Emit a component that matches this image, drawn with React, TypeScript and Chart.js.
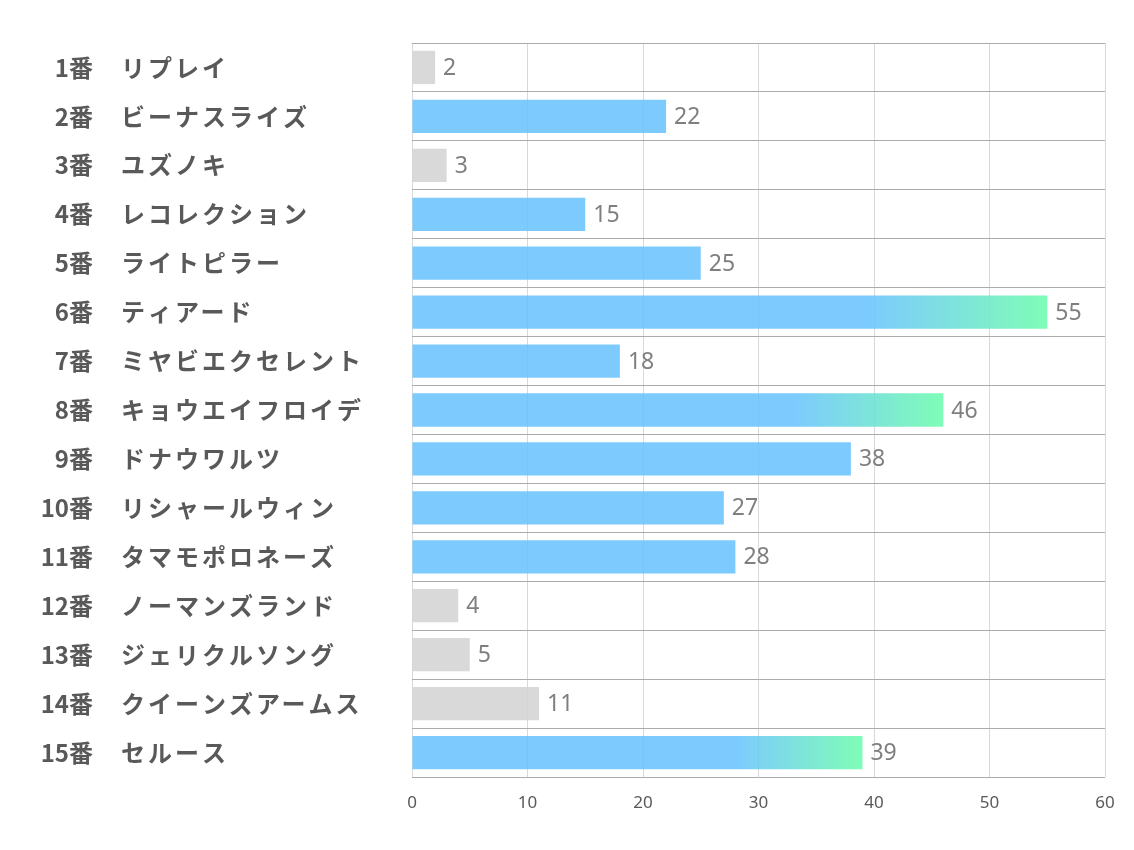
import React, { useEffect, useRef } from "react";
import { Chart, registerables } from "chart.js";

Chart.register(...registerables);

const numbers = ["1番", "2番", "3番", "4番", "5番", "6番", "7番", "8番", "9番", "10番", "11番", "12番", "13番", "14番", "15番"];
const names = [
  "リプレイ",
  "ビーナスライズ",
  "ユズノキ",
  "レコレクション",
  "ライトピラー",
  "ティアード",
  "ミヤビエクセレント",
  "キョウエイフロイデ",
  "ドナウワルツ",
  "リシャールウィン",
  "タマモポロネーズ",
  "ノーマンズランド",
  "ジェリクルソング",
  "クイーンズアームス",
  "セルース",
];
const values = [2, 22, 3, 15, 25, 55, 18, 46, 38, 27, 28, 4, 5, 11, 39];
const xTicks = [0, 10, 20, 30, 40, 50, 60];

const GREY = "rgba(210,210,210,0.85)";
const BLUE = "rgba(102,194,254,0.85)";
const GREEN = "rgba(104,252,170,0.85)";

function rankOf(i: number): number {
  return values.filter((v) => v > values[i]).length;
}

const labelPlugin = {
  id: "sideLabels",
  afterDraw(chart: any) {
    const ctx = chart.ctx;
    const y = chart.scales.y;
    const x = chart.scales.x;
    ctx.save();
    ctx.textBaseline = "middle";
    values.forEach((v, i) => {
      const py = y.getPixelForValue(i);
      ctx.fillStyle = "#595959";
      ctx.font = "bold 24px 'Noto Sans CJK JP'";
      ctx.textAlign = "right";
      (ctx as any).letterSpacing = "0px";
      ctx.fillText(numbers[i], 93, py);
      ctx.textAlign = "left";
      (ctx as any).letterSpacing = "3px";
      ctx.fillText(names[i], 121, py);
      (ctx as any).letterSpacing = "0px";
      ctx.fillStyle = "#7f7f7f";
      ctx.font = "23px 'Noto Sans'";
      ctx.fillText(String(v), x.getPixelForValue(v) + 8, py + 1);
    });
    ctx.restore();
  },
};

export default function App() {
  const ref = useRef<HTMLCanvasElement>(null);
  useEffect(() => {
    document.body.style.margin = "0";
    const chart = new Chart(ref.current!, {
      type: "bar",
      data: {
        labels: numbers,
        datasets: [
          {
            data: values,
            backgroundColor: (c: any) => {
              const i = c.dataIndex;
              if (i === undefined) return BLUE;
              const r = rankOf(i);
              if (r >= 10) return GREY;
              if (r >= 3) return BLUE;
              const xs = c.chart.scales.x;
              if (!xs) return BLUE;
              const x0 = xs.getPixelForValue(0);
              const x1 = xs.getPixelForValue(values[i]);
              const g = c.chart.ctx.createLinearGradient(x0, 0, x1, 0);
              g.addColorStop(0, BLUE);
              g.addColorStop(0.72, BLUE);
              g.addColorStop(1, GREEN);
              return g;
            },
            borderWidth: 0,
            categoryPercentage: 1,
            barPercentage: 0.68,
          },
        ],
      },
      options: {
        indexAxis: "y",
        animation: false,
        responsive: false,
        maintainAspectRatio: false,
        layout: { padding: { left: 0, top: 43, right: 29, bottom: 0 } },
        plugins: { legend: { display: false }, tooltip: { enabled: false } },
        scales: {
          x: {
            min: 0,
            max: 60,
            afterBuildTicks: (s: any) => {
              s.ticks = xTicks.map((v) => ({ value: v }));
            },
            afterFit: (s: any) => {
              s.height = 73;
            },
            grid: { color: "#d9d9d9", drawTicks: false },
            border: { display: false },
            ticks: {
              padding: 16,
              color: "#595959",
              font: { family: "'Noto Sans'", size: 17 },
            },
          },
          y: {
            afterFit: (s: any) => {
              s.width = 412;
            },
            grid: { color: "#ababab", offset: true, drawTicks: false },
            border: { display: false },
            ticks: { display: false },
          },
        },
      },
      plugins: [labelPlugin],
    });
    return () => chart.destroy();
  }, []);
  return <canvas ref={ref} width={1134} height={850} style={{ display: "block", width: 1134, height: 850 }} />;
}
